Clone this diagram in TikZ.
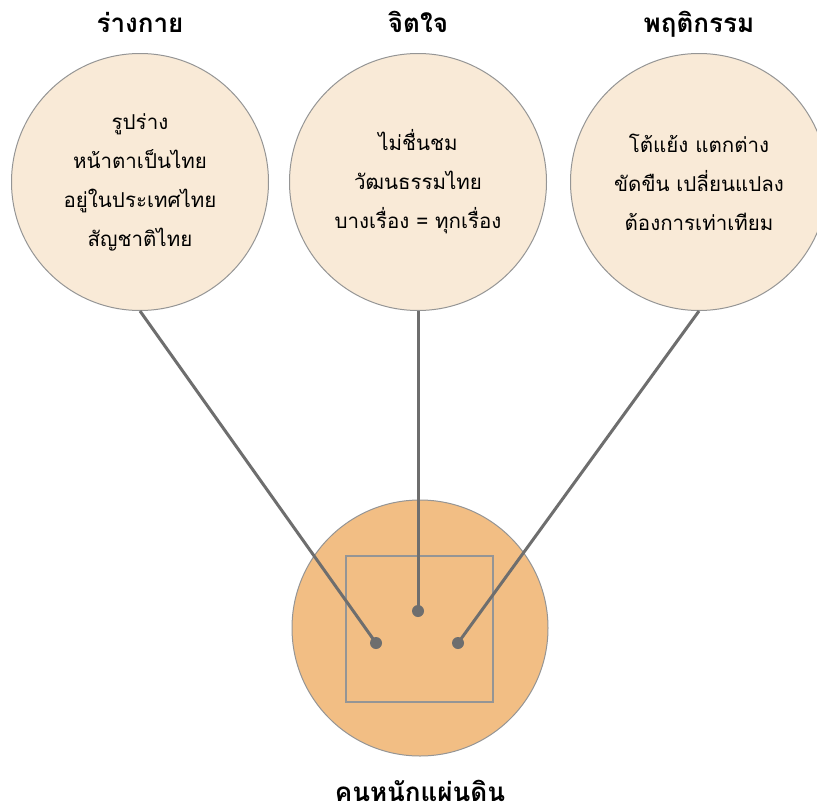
\documentclass[tikz,border=0pt]{standalone}
\usepackage{fontspec}
\newfontfamily\thaifont[Script=Thai]{Loma}
\definecolor{peach}{HTML}{F9EAD7}
\definecolor{apricot}{HTML}{F2BE84}
\definecolor{rimgray}{HTML}{959595}
\definecolor{linkgray}{HTML}{6E6E6E}
\begin{document}
\begin{tikzpicture}[x=1pt,y=-1pt]
\tikzstyle{every node}+=[inner sep=0pt]
\tikzstyle{bubble}=[circle, draw=rimgray, line width=1pt, fill=peach, minimum size=257pt, align=center, font=\thaifont\fontsize{20.5}{39}\selectfont]
\tikzstyle{heading}=[font=\thaifont\bfseries\fontsize{26}{30}\selectfont]
\tikzstyle{link}=[draw=linkgray, line width=3pt]
\tikzstyle{pin}=[circle, fill=linkgray, minimum size=12pt]
\useasboundingbox (0,0) rectangle (817,811);
\fill [white] (0,0) rectangle (817,811);
% three upper circles
\node [bubble] (body) at (140,182) {รูปร่าง\\หน้าตาเป็นไทย\\อยู่ในประเทศไทย\\สัญชาติไทย};
\node [bubble] (mind) at (418,182) {ไม่ชื่นชม\\วัฒนธรรมไทย\\บางเรื่อง = ทุกเรื่อง};
\node [bubble] (deed) at (699,182) {โต้แย้ง แตกต่าง\\ขัดขืน เปลี่ยนแปลง\\ต้องการเท่าเทียม};
\node [heading, anchor=base] (bodyhead) at (140,32) {ร่างกาย};
\node [heading, anchor=base] (mindhead) at (418,32) {จิตใจ};
\node [heading, anchor=base] (deedhead) at (699,32) {พฤติกรรม};
% lower circle
\node [circle, draw=rimgray, line width=1pt, fill=apricot, minimum size=256pt] (land) at (420,628) {};
\node [draw=rimgray, line width=1.2pt, minimum width=147pt, minimum height=146pt] (frame) at (419.5,629) {};
\node [heading, anchor=base] (landhead) at (420,801) {คนหนักแผ่นดิน};
% pins and links
\node [pin] (p1) at (376,643) {};
\node [pin] (p2) at (418,611) {};
\node [pin] (p3) at (458,643) {};
\draw [link] (body.south) -- (p1.center);
\draw [link] (mind.south) -- (p2.center);
\draw [link] (deed.south) -- (p3.center);
\end{tikzpicture}
\end{document}
